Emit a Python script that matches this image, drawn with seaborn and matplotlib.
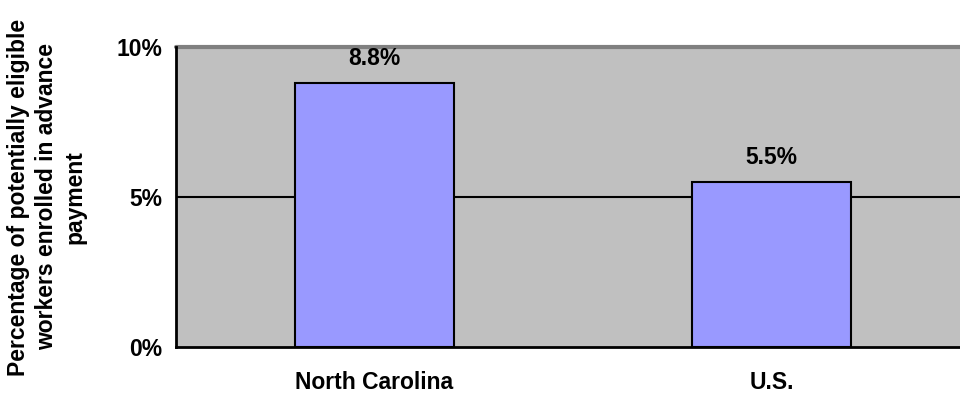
import matplotlib
matplotlib.use("Agg")
import matplotlib.pyplot as plt
import seaborn as sns
import pandas as pd
from matplotlib.ticker import FuncFormatter

categories = ["North Carolina", "U.S."]
values = [8.8, 5.5]
y_ticks = [0, 5, 10]

df = pd.DataFrame({"region": categories, "pct": values})

sns.set_theme(style="white")
plt.rcParams["font.family"] = ["Liberation Sans", "DejaVu Sans"]
plt.rcParams["font.weight"] = "bold"
plt.rcParams["text.color"] = "black"
plt.rcParams["xtick.color"] = "black"
plt.rcParams["ytick.color"] = "black"

FS = 16.5

fig = plt.figure(figsize=(9.6, 3.94), dpi=100)
ax = fig.add_axes([176 / 960, 1 - 347 / 394, 794 / 960, 300 / 394])
ax.set_facecolor("#C0C0C0")

sns.barplot(data=df, x="region", y="pct", ax=ax, color="#9999FF",
            saturation=1, width=0.4, edgecolor="black", linewidth=1.5,
            zorder=3)

ax.set_ylim(0, 10)
ax.set_xlim(-0.5, 1.5)
ax.set_yticks(y_ticks)
ax.yaxis.set_major_formatter(FuncFormatter(lambda v, _: f"{v:.0f}%"))
ax.set_xticks([-0.5, 0.5, 1.5], minor=False)
ax.set_xticklabels([])
ax.set_xticks([0, 1], minor=True)
ax.set_xticklabels(categories, minor=True)
ax.tick_params(axis="x", which="minor", length=0, pad=17, labelsize=FS,
               labelcolor="black")
ax.tick_params(axis="x", which="major", length=6, width=1.5, color="black",
               direction="out")
ax.tick_params(axis="y", length=6, width=1.5, color="black", direction="out",
               labelsize=FS, pad=4, labelcolor="black")
for lbl in ax.get_xticklabels(minor=True) + ax.get_yticklabels():
    lbl.set_fontweight("bold")

# horizontal gridlines
ax.axhline(5, color="black", linewidth=1.5, zorder=2)
ax.axhline(10, color="#808080", linewidth=3, zorder=2, clip_on=False)

for side in ["top", "right"]:
    ax.spines[side].set_visible(False)
for side in ["left", "bottom"]:
    ax.spines[side].set_color("black")
    ax.spines[side].set_linewidth(2)
    ax.spines[side].set_zorder(4)

for i, v in enumerate(values):
    ax.text(i, v + 0.45, f"{v:.1f}%", ha="center", va="bottom",
            fontsize=FS, fontweight="bold", color="black")

fig.text(47 / 960, 0.5,
         "Percentage of potentially eligible\nworkers enrolled in advance\npayment",
         rotation=90, ha="center", va="center", fontsize=FS,
         fontweight="bold", linespacing=1.3, color="black")

ax.set_xlabel("")
ax.set_ylabel("")

fig.savefig("out.png", dpi=100)
